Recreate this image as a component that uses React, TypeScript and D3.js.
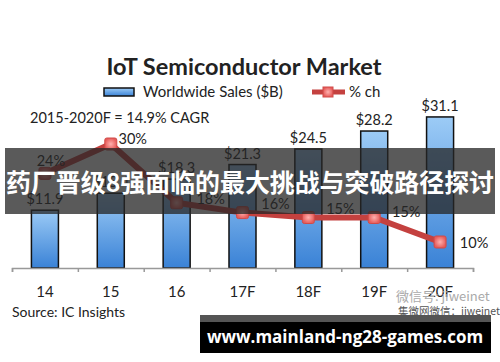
import React, { useEffect, useRef } from "react";
import { select, scaleBand, scaleLinear, axisBottom, line } from "d3";

const categories = ["14", "15", "16", "17F", "18F", "19F", "20F"];
const sales = [11.9, 15.4, 18.3, 21.3, 24.5, 28.2, 31.1];
const pctChange = [24, 30, 18, 16, 15, 15, 10];
const salesLabels = ["$11.9", "$15.4", "$18.3", "$21.3", "$24.5", "$28.2", "$31.1"];
const pctLabels = ["24%", "30%", "18%", "16%", "15%", "15%", "10%"];

const width = 500;
const height = 362;
const font = "Lato, 'Open Sans', sans-serif";

const App = () => {
  const svgRef = useRef<SVGSVGElement>(null);

  useEffect(() => {
    const svg = select(svgRef.current);
    svg.selectAll("*").remove();

    // SCALES
    const x = scaleBand().domain(categories).range([12, 473]).paddingInner(0.59).paddingOuter(0.295);
    const y = scaleLinear().domain([0, 35]).range([268, 98]);
    const y2 = scaleLinear().domain([0, 30]).range([291, 144]);
    const cx = (i: number) => (x(categories[i]) as number) + x.bandwidth() / 2;

    const defs = svg.append("defs");
    const grad = defs.append("linearGradient").attr("id", "barGrad")
      .attr("x1", 0).attr("y1", 0).attr("x2", 0).attr("y2", 1);
    grad.append("stop").attr("offset", "0%").attr("stop-color", "#9ccbf6");
    grad.append("stop").attr("offset", "100%").attr("stop-color", "#3a82d6");
    const mgrad = defs.append("radialGradient").attr("id", "markGrad");
    mgrad.append("stop").attr("offset", "0%").attr("stop-color", "#ffb0ae");
    mgrad.append("stop").attr("offset", "100%").attr("stop-color", "#e65c5a");

    svg.append("rect").attr("width", width).attr("height", height).attr("fill", "#fff");

    // TITLE + LEGEND
    svg.append("text").attr("x", 244).attr("y", 75).attr("text-anchor", "middle")
      .attr("font-family", font).attr("font-weight", "bold").attr("font-size", 23.5)
      .attr("fill", "#222").text("IoT Semiconductor Market");

    svg.append("rect").attr("x", 104).attr("y", 88).attr("width", 30).attr("height", 8)
      .attr("fill", "url(#barGrad)").attr("stroke", "#111").attr("stroke-width", 1.5);
    svg.append("text").attr("x", 143).attr("y", 97).attr("font-family", font)
      .attr("font-size", 15).attr("fill", "#222").text("Worldwide Sales ($B)");
    svg.append("line").attr("x1", 312).attr("x2", 345).attr("y1", 92).attr("y2", 92)
      .attr("stroke", "#c4413f").attr("stroke-width", 5);
    svg.append("rect").attr("x", 323).attr("y", 87).attr("width", 10).attr("height", 10)
      .attr("fill", "url(#markGrad)").attr("stroke", "#d04b49");
    svg.append("text").attr("x", 349).attr("y", 97).attr("font-family", font)
      .attr("font-size", 15).attr("fill", "#222").text("% ch");

    svg.append("text").attr("x", 30).attr("y", 123).attr("font-family", font)
      .attr("font-size", 14.5).attr("fill", "#222").text("2015-2020F = 14.9% CAGR");

    // BARS
    svg.selectAll(".bar").data(sales).join("rect").attr("class", "bar")
      .attr("x", (_, i) => x(categories[i]) as number)
      .attr("y", d => y(d))
      .attr("width", x.bandwidth())
      .attr("height", d => y(0) - y(d))
      .attr("fill", "url(#barGrad)")
      .attr("stroke", "#111").attr("stroke-width", 1.5);

    svg.selectAll(".blabel").data(salesLabels).join("text").attr("class", "blabel")
      .attr("x", (_, i) => cx(i)).attr("y", (_, i) => y(sales[i]) - 6)
      .attr("text-anchor", "middle").attr("font-family", font).attr("font-size", 14.5)
      .attr("fill", "#222").text(d => d);

    // AXIS
    const xAxis = axisBottom(scaleLinear().domain([0, 7]).range([12, 473]))
      .ticks(7).tickSize(4).tickFormat(() => "");
    const ax = svg.append("g").attr("transform", `translate(0,268)`).call(xAxis);
    ax.select(".domain").attr("stroke", "#999").attr("stroke-width", 1.5);
    ax.selectAll(".tick line").attr("stroke", "#999").attr("stroke-width", 1.5);

    svg.selectAll(".xlabel").data(categories).join("text").attr("class", "xlabel")
      .attr("x", (_, i) => cx(i)).attr("y", 297).attr("text-anchor", "middle")
      .attr("font-family", font).attr("font-size", 15).attr("fill", "#222").text(d => d);

    // LINE
    const path = line<number>().x((_, i) => cx(i)).y(d => y2(d));
    svg.append("path").datum(pctChange).attr("d", path).attr("fill", "none")
      .attr("stroke", "#c4413f").attr("stroke-width", 6).attr("stroke-linejoin", "round");
    svg.selectAll(".mark").data(pctChange).join("rect").attr("class", "mark")
      .attr("x", (_, i) => cx(i) - 6).attr("y", d => y2(d) - 6)
      .attr("width", 12).attr("height", 12).attr("rx", 2)
      .attr("fill", "url(#markGrad)").attr("stroke", "#d04b49");

    const pOff = [[6, -12], [22, -5], [34, -4], [33, -9], [32, -9], [32, -6], [34, 1]];
    svg.selectAll(".plabel").data(pctLabels).join("text").attr("class", "plabel")
      .attr("x", (_, i) => cx(i) + pOff[i][0]).attr("y", (_, i) => y2(pctChange[i]) + pOff[i][1] + 5)
      .attr("text-anchor", "middle").attr("font-family", font).attr("font-size", 14.5)
      .attr("fill", "#222").text(d => d);

    svg.append("text").attr("x", 12).attr("y", 317).attr("font-family", font)
      .attr("font-size", 14).attr("fill", "#222").text("Source: IC Insights");

    // WATERMARK
    svg.append("text").attr("x", 396).attr("y", 301).attr("font-family", "'Noto Sans CJK SC', sans-serif")
      .attr("font-size", 13).attr("fill", "#aaa").text("微信号: jiweinet");
    svg.append("text").attr("x", 398).attr("y", 315).attr("font-family", "'Noto Sans CJK SC', sans-serif")
      .attr("font-size", 10.5).attr("fill", "#555").text("集微网微信：jiweinet");

    // OVERLAY BANNER
    svg.append("rect").attr("x", 5).attr("y", 148).attr("width", 490).attr("height", 66)
      .attr("fill", "rgba(38,38,38,0.76)");
    svg.append("text").attr("x", 6).attr("y", 192)
      .attr("font-family", "'Noto Sans CJK SC', sans-serif").attr("font-weight", "bold")
      .attr("font-size", 25).attr("textLength", 488).attr("lengthAdjust", "spacingAndGlyphs")
      .attr("fill", "#fff").text("药厂晋级8强面临的最大挑战与突破路径探讨");

    // BOTTOM BAR
    svg.append("rect").attr("x", 200).attr("y", 315).attr("width", 291).attr("height", 38).attr("fill", "#000");
    svg.append("rect").attr("x", 200).attr("y", 315).attr("width", 291).attr("height", 7).attr("fill", "#555");
    svg.append("text").attr("x", 345).attr("y", 343).attr("text-anchor", "middle")
      .attr("font-family", "'Open Sans', sans-serif").attr("font-weight", "bold")
      .attr("font-size", 17).attr("fill", "#fff").text("www.mainland-ng28-games.com");
  }, []);

  return (
    <svg ref={svgRef} width={width} height={height}
      style={{ position: "absolute", left: 0, top: 0, display: "block" }} />
  );
};

export default App;
